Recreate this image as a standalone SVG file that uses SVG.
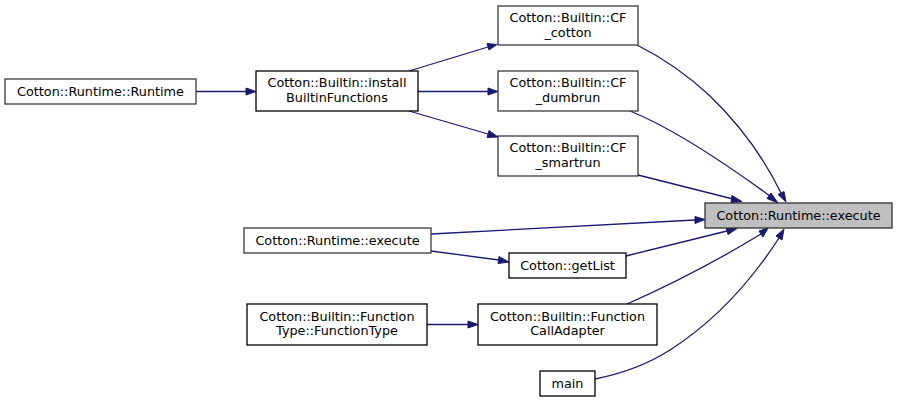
<svg xmlns="http://www.w3.org/2000/svg" width="897" height="402" viewBox="0 0 897 402">
<defs>
<style>
.n rect{fill:#ffffff;stroke:#000000;stroke-width:1.3}
.n rect.g{stroke:#3a3a3a}
.n rect.t{fill:#bfbfbf;stroke:#303030}
.n text{font-family:"DejaVu Sans",sans-serif;font-size:12.8px;fill:#000000;text-anchor:middle}
.e path{fill:none;stroke:#191970;stroke-width:1.3}
.e polygon{fill:#191970;stroke:#191970;stroke-width:1}
</style>
</defs>
<rect width="897" height="402" fill="#ffffff"/>
<g id="edges" class="e">
<path d="M196,91.5 H246"/><polygon points="246,88 256,91.5 246,95"/>
<path d="M409,71 L488,47"/><polygon points="487,43.5 497,44.5 489,50"/>
<path d="M418,91.5 H488"/><polygon points="488,88 498,91.5 488,95"/>
<path d="M409,111 L488,134"/><polygon points="489,130.5 498,137 487,137.5"/>
<path d="M637,45 C655,54 680,68 710,96 C740,125 765,160 781,193"/><polygon points="778,194.5 786,202 784,191.5"/>
<path d="M630,111 C660,123 700,145 770,196"/><polygon points="767,198.5 778,203 771,193"/>
<path d="M638,175 L733,199"/><polygon points="732,195.5 742,201.5 731,202.5"/>
<path d="M431,234 L695,220"/><polygon points="695,216.5 705,219.5 695,223.5"/>
<path d="M431,251 L499,260"/><polygon points="499,256.5 509,262 498,263.5"/>
<path d="M626,256 L727,231"/><polygon points="726,227.5 737,228.5 728,234.5"/>
<path d="M627,304 C670,285 715,262 761,234"/><polygon points="759,231 768,228 763,237"/>
<path d="M595,379 C620,374 645,366 670,350 C720,318 755,275 779,238"/><polygon points="776,236 784,229 782,240"/>
<path d="M427,324.5 H468"/><polygon points="468,321 478,324.5 468,328"/>
</g>
<g id="n_rt_runtime" class="n"><rect class="g" x="5" y="79" width="191" height="25"/><text x="100.5" y="96">Cotton::Runtime::Runtime</text></g>
<g id="n_install" class="n"><rect x="256" y="71" width="162" height="40"/><text x="337" y="87">Cotton::Builtin::install</text><text x="337" y="102">BuiltinFunctions</text></g>
<g id="n_cf_cotton" class="n"><rect class="g" x="498" y="6" width="140" height="39"/><text x="568" y="22">Cotton::Builtin::CF</text><text x="568" y="37">_cotton</text></g>
<g id="n_cf_dumbrun" class="n"><rect class="g" x="498" y="71" width="140" height="40"/><text x="568" y="87">Cotton::Builtin::CF</text><text x="568" y="102">_dumbrun</text></g>
<g id="n_cf_smartrun" class="n"><rect class="g" x="498" y="136" width="140" height="40"/><text x="568" y="152">Cotton::Builtin::CF</text><text x="568" y="167">_smartrun</text></g>
<g id="n_target" class="n"><rect class="t" x="705" y="203" width="187" height="25"/><text x="798.5" y="220">Cotton::Runtime::execute</text></g>
<g id="n_rt_execute" class="n"><rect class="g" x="244" y="228" width="187" height="25"/><text x="337.5" y="245">Cotton::Runtime::execute</text></g>
<g id="n_getlist" class="n"><rect x="509" y="253" width="117" height="25"/><text x="567.5" y="270">Cotton::getList</text></g>
<g id="n_functiontype" class="n"><rect x="247" y="304" width="180" height="41"/><text x="337" y="321">Cotton::Builtin::Function</text><text x="337" y="335">Type::FunctionType</text></g>
<g id="n_fca" class="n"><rect x="478" y="304" width="179" height="41"/><text x="567.5" y="321">Cotton::Builtin::Function</text><text x="567.5" y="335">CallAdapter</text></g>
<g id="n_main" class="n"><rect x="540" y="371" width="55" height="25"/><text x="567.5" y="388">main</text></g>
</svg>
